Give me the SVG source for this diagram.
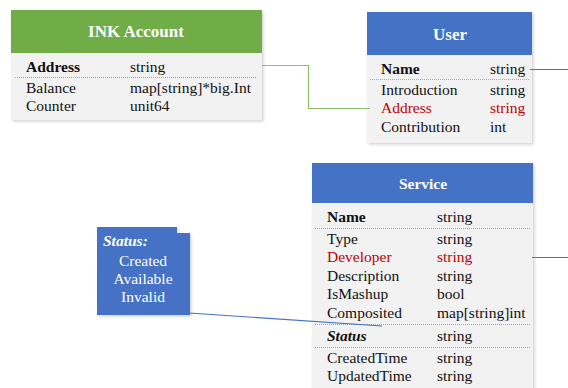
<svg xmlns="http://www.w3.org/2000/svg" width="568" height="388" viewBox="0 0 568 388" font-family="'Liberation Serif', 'DejaVu Serif', serif">
  <defs>
    <filter id="shadow" x="-5%" y="-5%" width="115%" height="115%">
      <feDropShadow dx="1.5" dy="1.5" stdDeviation="1.5" flood-color="#000" flood-opacity="0.18"/>
    </filter>
  </defs>
  <style>
    .title { font-size: 17px; font-weight: bold; fill: #ffffff; text-anchor: middle; }
    .f { font-size: 15.5px; fill: #111111; }
    .key { font-weight: bold; }
    .red { fill: #c00000; }
    .it { font-weight: bold; font-style: italic; }
    .body { fill: #f2f2f2; filter: url(#shadow); }
    .green { fill: #70ad47; }
    .blue { fill: #4472c4; }
    .sep { stroke: #8faadc; stroke-width: 1; stroke-dasharray: 1 1; }
    .note { font-size: 15.5px; fill: #ffffff; }
    .conn { fill: none; stroke-width: 1.2; }
  </style>

  <!-- INK Account -->
  <g id="ink-account">
    <rect class="body" x="11" y="10" width="251" height="110"/>
    <rect class="green" x="11" y="10" width="251" height="43"/>
    <text class="title" x="136" y="37">INK Account</text>
    <text class="f key" x="26" y="72">Address</text>
    <text class="f" x="130" y="72">string</text>
    <line class="sep" x1="15" y1="77.5" x2="257" y2="77.5"/>
    <text class="f" x="26" y="93">Balance</text>
    <text class="f" x="130" y="93">map[string]*big.Int</text>
    <text class="f" x="26" y="111">Counter</text>
    <text class="f" x="130" y="111">unit64</text>
  </g>

  <!-- User -->
  <g id="user">
    <rect class="body" x="367" y="12" width="165" height="131"/>
    <rect class="blue" x="367" y="12" width="165" height="43"/>
    <text class="title" x="450" y="40">User</text>
    <text class="f key" x="381" y="74">Name</text>
    <text class="f" x="490" y="74">string</text>
    <line class="sep" x1="370" y1="79.5" x2="529" y2="79.5"/>
    <text class="f" x="381" y="95">Introduction</text>
    <text class="f" x="490" y="95">string</text>
    <text class="f red" x="381" y="113">Address</text>
    <text class="f red" x="490" y="113">string</text>
    <text class="f" x="381" y="132">Contribution</text>
    <text class="f" x="490" y="132">int</text>
  </g>

  <!-- Service -->
  <g id="service">
    <rect class="body" x="312" y="163" width="221" height="230"/>
    <rect class="blue" x="312" y="163" width="221" height="40"/>
    <text class="title" x="423" y="189" style="font-size:15.5px">Service</text>
    <text class="f key" x="327" y="222">Name</text>
    <text class="f" x="437" y="222">string</text>
    <line class="sep" x1="315" y1="228.5" x2="530" y2="228.5"/>
    <text class="f" x="327" y="244">Type</text>
    <text class="f" x="437" y="244">string</text>
    <text class="f red" x="327" y="262">Developer</text>
    <text class="f red" x="437" y="262">string</text>
    <text class="f" x="327" y="281">Description</text>
    <text class="f" x="437" y="281">string</text>
    <text class="f" x="327" y="299">IsMashup</text>
    <text class="f" x="437" y="299">bool</text>
    <text class="f" x="327" y="318">Composited</text>
    <text class="f" x="437" y="318">map[string]int</text>
    <line class="sep" x1="315" y1="324.5" x2="530" y2="324.5"/>
    <text class="f it" x="327" y="341">Status</text>
    <text class="f" x="437" y="341">string</text>
    <line class="sep" x1="315" y1="347.5" x2="530" y2="347.5"/>
    <text class="f" x="327" y="363">CreatedTime</text>
    <text class="f" x="437" y="363">string</text>
    <text class="f" x="327" y="381">UpdatedTime</text>
    <text class="f" x="437" y="381">string</text>
  </g>

  <!-- Status note -->
  <g id="status-note">
    <path class="blue" d="M97,227 H177 V233 H190 V315 H97 Z" filter="url(#shadow)"/>
    <text class="note it" x="103" y="246">Status:</text>
    <text class="note" x="143" y="266" text-anchor="middle">Created</text>
    <text class="note" x="143" y="284" text-anchor="middle">Available</text>
    <text class="note" x="143" y="302" text-anchor="middle">Invalid</text>
  </g>

  <!-- connectors, drawn over the boxes -->
  <g id="connectors">
    <path class="conn" d="M262,65.5 H308.5 V108.5 H370" stroke="#8dbf6a"/>
    <path class="conn" d="M530,69.5 H568" stroke="#4472c4"/>
    <path class="conn" d="M532,257.5 H568" stroke="#4472c4"/>
    <path class="conn" d="M189,313 L382,326" stroke="#4472c4"/>
  </g>
</svg>
